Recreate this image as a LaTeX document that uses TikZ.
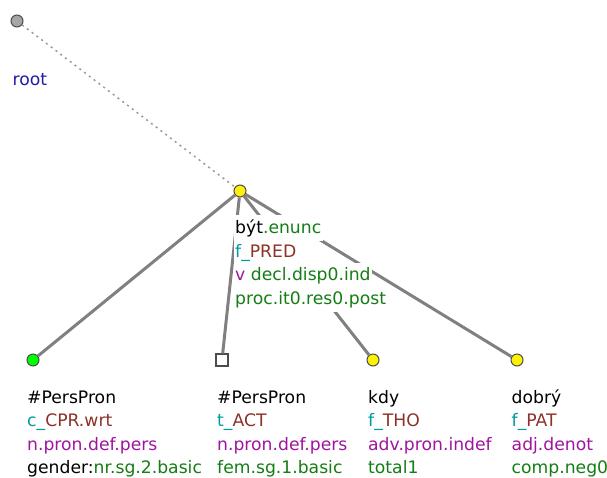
\documentclass[tikz,border=0pt]{standalone}
\usepackage{fontspec}
\setmainfont{DejaVu Sans}
\usetikzlibrary{positioning}
\definecolor{lemmacol}{RGB}{0,0,0}
\definecolor{funccol}{RGB}{0,155,155}
\definecolor{afuncol}{RGB}{140,50,40}
\definecolor{poscol}{RGB}{160,20,160}
\definecolor{gramcol}{RGB}{20,125,20}
\definecolor{rootcol}{RGB}{30,30,170}

\begin{document}
\begin{tikzpicture}[x=1pt, y=-1pt,
  tnode/.style={circle, draw=black!70, line width=1pt, inner sep=0pt, minimum size=12pt},
  qnode/.style={rectangle, draw=black!70, fill=white, line width=1.2pt, inner sep=0pt, minimum size=12pt},
  lbl/.style={anchor=base west, fill=white, inner xsep=1.5pt, inner ysep=4.5pt, font=\fontsize{17.2}{20}\selectfont},
  edge/.style={draw=black!50, line width=3pt},
  rootedge/.style={draw=black!40, line width=1.5pt, dash pattern=on 2pt off 4pt}]
\useasboundingbox (0,0) rectangle (607,477);
% tree nodes
\node[tnode, fill=black!35] (root) at (17,21) {};
\node[tnode, fill=yellow] (byt) at (240,191) {};
\node[tnode, fill=green] (ppA) at (33,360) {};
\node[qnode] (ppB) at (222,360) {};
\node[tnode, fill=yellow] (kdy) at (373,360) {};
\node[tnode, fill=yellow] (dobry) at (517,360) {};
% edges
\draw[rootedge] (root) -- (byt);
\draw[edge] (byt) -- (ppA); \draw[edge] (byt) -- (ppB);
\draw[edge] (byt) -- (kdy); \draw[edge] (byt) -- (dobry);
% labels
\node[lbl, text=rootcol] (root-l) at (11,85) {root};
\node[lbl] (byt-l1) at (233.5,233) {být{\color{gramcol}.enunc}};
\node[lbl] (byt-l2) at (233.5,257) {{\color{funccol}f\_}{\color{afuncol}PRED}};
\node[lbl] (byt-l3) at (233.5,280.5) {{\color{poscol}v} {\color{gramcol}decl.disp0.ind}};
\node[lbl, text=gramcol] (byt-l4) at (233.5,304) {proc.it0.res0.post};
\node[lbl] (ppA-l1) at (25.5,403) {\#PersPron};
\node[lbl] (ppA-l2) at (25.5,426.5) {{\color{funccol}c\_}{\color{afuncol}CPR.wrt}};
\node[lbl, text=poscol] (ppA-l3) at (25.5,450) {n.pron.def.pers};
\node[lbl] (ppA-l4) at (25.5,473.5) {gender:{\color{gramcol}nr.sg.2.basic}};
\node[lbl] (ppB-l1) at (215.5,403) {\#PersPron};
\node[lbl] (ppB-l2) at (215.5,426.5) {{\color{funccol}t\_}{\color{afuncol}ACT}};
\node[lbl, text=poscol] (ppB-l3) at (215.5,450) {n.pron.def.pers};
\node[lbl, text=gramcol] (ppB-l4) at (215.5,473.5) {fem.sg.1.basic};
\node[lbl] (kdy-l1) at (366.5,403) {kdy};
\node[lbl] (kdy-l2) at (366.5,426.5) {{\color{funccol}f\_}{\color{afuncol}THO}};
\node[lbl, text=poscol] (kdy-l3) at (366.5,450) {adv.pron.indef};
\node[lbl, text=gramcol] (kdy-l4) at (366.5,473.5) {total1};
\node[lbl] (dobry-l1) at (510,403) {dobrý};
\node[lbl] (dobry-l2) at (510,426.5) {{\color{funccol}f\_}{\color{afuncol}PAT}};
\node[lbl, text=poscol] (dobry-l3) at (510,450) {adj.denot};
\node[lbl, text=gramcol] (dobry-l4) at (510,473.5) {comp.neg0};
\end{tikzpicture}
\end{document}
